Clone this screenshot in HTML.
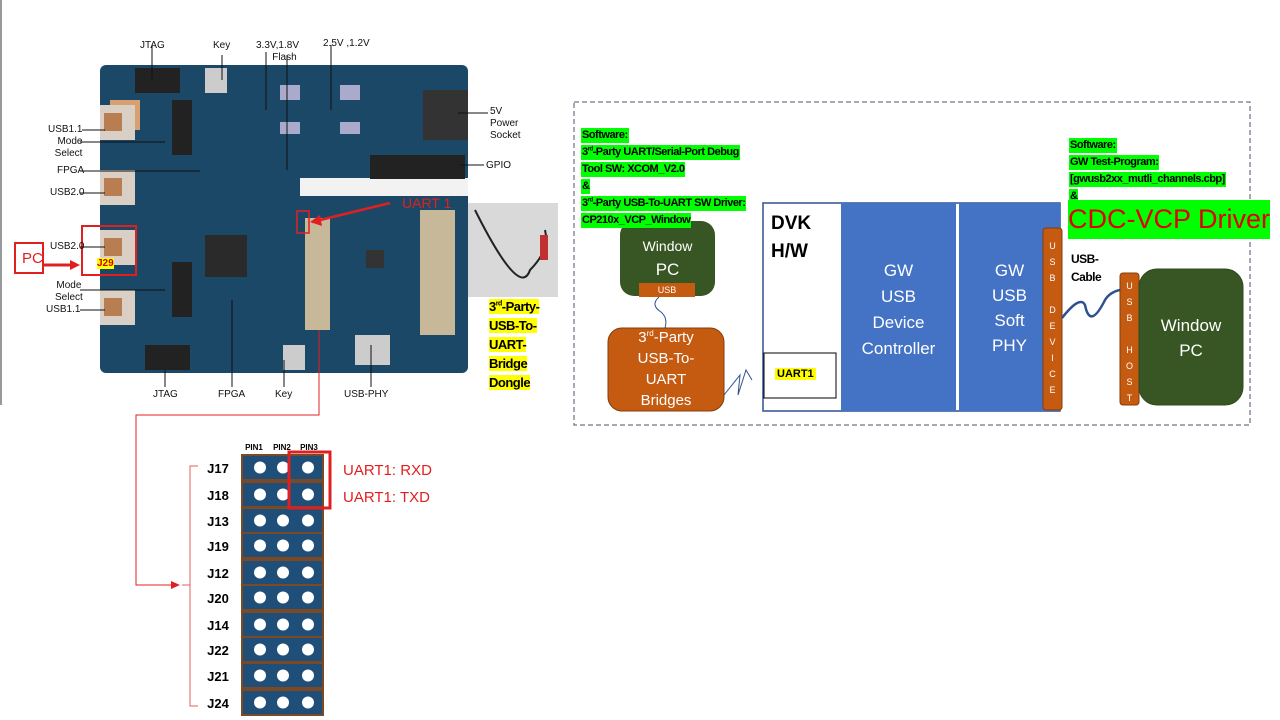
<!DOCTYPE html>
<html><head><meta charset="utf-8"><style>
body{margin:0;width:1280px;height:720px;background:#fff;position:relative;overflow:hidden;font-family:"Liberation Sans",sans-serif}
.a{position:absolute}
.g{background:#00ff00;font-weight:bold;font-size:11px;letter-spacing:-0.5px;color:#000;line-height:15px;display:inline-block;padding:0 1px}
sup{line-height:0}
.lbl{font-size:10px;color:#111;position:absolute;text-align:center;line-height:12px}
</style></head><body>
<svg class="a" style="left:0;top:0" width="1280" height="720">
<line x1="1" y1="0" x2="1" y2="405" stroke="#999" stroke-width="2"/>
<rect x="100" y="65" width="368" height="308" rx="6" fill="#1c4868"/>
<rect x="300" y="178" width="168" height="18" fill="#f2f2f2"/>
<rect x="110" y="100" width="30" height="30" fill="#d8a070"/>
<rect x="100" y="105" width="35" height="35" fill="#d9cfc4"/><rect x="100" y="170" width="35" height="35" fill="#d9cfc4"/>
<rect x="100" y="230" width="35" height="35" fill="#d9cfc4"/><rect x="100" y="290" width="35" height="35" fill="#d9cfc4"/>
<rect x="104" y="113" width="18" height="18" fill="#b87d50"/><rect x="104" y="178" width="18" height="18" fill="#b87d50"/>
<rect x="104" y="238" width="18" height="18" fill="#b87d50"/><rect x="104" y="298" width="18" height="18" fill="#b87d50"/>
<rect x="135" y="68" width="45" height="25" fill="#222"/><rect x="145" y="345" width="45" height="25" fill="#222"/>
<rect x="205" y="68" width="22" height="25" fill="#ccc"/><rect x="283" y="345" width="22" height="25" fill="#ccc"/>
<rect x="172" y="100" width="20" height="55" fill="#222"/><rect x="172" y="262" width="20" height="55" fill="#222"/>
<rect x="205" y="235" width="42" height="42" fill="#2a2a2a"/>
<rect x="423" y="90" width="45" height="50" fill="#333"/>
<rect x="370" y="155" width="95" height="24" fill="#222"/>
<rect x="280" y="85" width="20" height="15" fill="#aac"/><rect x="340" y="85" width="20" height="15" fill="#aac"/>
<rect x="280" y="122" width="20" height="12" fill="#aac"/><rect x="340" y="122" width="20" height="12" fill="#aac"/>
<rect x="305" y="218" width="25" height="112" fill="#c8b89a"/>
<rect x="420" y="210" width="35" height="125" fill="#c8b89a"/>
<rect x="366" y="250" width="18" height="18" fill="#333"/>
<rect x="355" y="335" width="35" height="30" fill="#ccc"/>
<rect x="468" y="203" width="90" height="94" fill="#d9d9d9"/>
<path d="M475 210 Q520 300 530 270 Q550 250 545 230" stroke="#222" stroke-width="2" fill="none"/>
<rect x="540" y="235" width="8" height="25" fill="#c03030"/>
<rect x="297" y="211" width="12" height="22" fill="none" stroke="#e02020" stroke-width="1.5"/>
<line x1="390" y1="203" x2="312" y2="222" stroke="#e02020" stroke-width="2.5"/>
<polygon points="310,222 320,215 322,226" fill="#e02020"/>
<rect x="82" y="226" width="54" height="49" fill="none" stroke="#e02020" stroke-width="2"/>
<rect x="15" y="243" width="28" height="30" fill="#fff" stroke="#e02020" stroke-width="2"/>
<line x1="43" y1="265" x2="72" y2="265" stroke="#e02020" stroke-width="3"/>
<polygon points="80,265 70,260 70,270" fill="#e02020"/>
<g stroke="#111" stroke-width="1">
<line x1="152" y1="45" x2="152" y2="80"/><line x1="222" y1="55" x2="222" y2="80"/>
<line x1="266" y1="52" x2="266" y2="110"/><line x1="287" y1="55" x2="287" y2="170"/>
<line x1="331" y1="45" x2="331" y2="110"/><line x1="458" y1="113" x2="488" y2="113"/>
<line x1="460" y1="165" x2="484" y2="165"/><line x1="82" y1="130" x2="105" y2="130"/>
<line x1="80" y1="142" x2="165" y2="142"/><line x1="80" y1="171" x2="200" y2="171"/>
<line x1="80" y1="193" x2="105" y2="193"/><line x1="80" y1="247" x2="105" y2="247"/>
<line x1="80" y1="290" x2="165" y2="290"/><line x1="80" y1="310" x2="105" y2="310"/>
<line x1="165" y1="370" x2="165" y2="387"/><line x1="232" y1="300" x2="232" y2="387"/>
<line x1="284" y1="360" x2="284" y2="387"/><line x1="371" y1="345" x2="371" y2="387"/>
</g>
<polyline points="319,330 319,415 136,415 136,585 176,585" fill="none" stroke="#e02020" stroke-width="1"/>
<polygon points="180,585 171,581 171,589" fill="#e02020"/>
<polyline points="198,466 190,466 190,706 198,706" fill="none" stroke="#e06060" stroke-width="1"/>
<line x1="182" y1="585" x2="190" y2="585" stroke="#e06060"/>
<g id="pins"></g>
<rect x="289" y="452" width="41" height="56" fill="none" stroke="#e02020" stroke-width="3"/>
<rect x="574" y="102" width="676" height="323" fill="none" stroke="#44546a" stroke-dasharray="5,3"/>
<rect x="763" y="203" width="297" height="208" fill="#fff" stroke="#2f528f" stroke-width="1.5"/>
<rect x="841" y="203" width="115" height="208" fill="#4472c4"/>
<rect x="959" y="203" width="101" height="208" fill="#4472c4"/>
<rect x="764" y="353" width="72" height="45" fill="#fff" stroke="#000"/>
<rect x="1043" y="228" width="19" height="182" rx="3" fill="#c55a11" stroke="#843c0c"/>
<rect x="1120" y="273" width="19" height="132" rx="3" fill="#c55a11" stroke="#843c0c"/>
<rect x="1139" y="269" width="104" height="136" rx="18" fill="#375623" stroke="#2f4a1e"/>
<rect x="620" y="221" width="95" height="75" rx="14" fill="#375623"/>
<rect x="639" y="283" width="56" height="14" fill="#c55a11"/>
<rect x="608" y="328" width="116" height="83" rx="14" fill="#c55a11" stroke="#843c0c"/>
<path d="M659 297 Q650 305 661 312 Q668 318 665 328" stroke="#2f528f" fill="none"/>
<path d="M724 395 L740 375 L738 395 L746 370 L752 380" stroke="#2f528f" fill="none"/>
<path d="M1062 318 Q1080 295 1085 305 Q1090 330 1105 300 Q1110 292 1120 290" stroke="#2f528f" stroke-width="2.5" fill="none"/>
</svg>
<script>
var s='',ys=[455,482,508,533,560,585,612,637,663,690],nm=['J17','J18','J13','J19','J12','J20','J14','J22','J21','J24'];
ys.forEach(function(y,i){s+='<rect x="242" y="'+y+'" width="81" height="25" fill="#1f4e79" stroke="#7b4a25" stroke-width="2"/>';
[260,283,308].forEach(function(x){s+='<circle cx="'+x+'" cy="'+(y+12.5)+'" r="6" fill="#fff"/>'});
s+='<text x="218" y="'+(y+18)+'" font-size="13" font-weight="bold" text-anchor="middle" font-family="Liberation Sans">'+nm[i]+'</text>';});
s+='<text x="254" y="450" font-size="8" font-weight="bold" text-anchor="middle">PIN1</text><text x="282" y="450" font-size="8" font-weight="bold" text-anchor="middle">PIN2</text><text x="309" y="450" font-size="8" font-weight="bold" text-anchor="middle">PIN3</text>';
document.getElementById('pins').innerHTML=s;
</script>
<div class="lbl" style="left:140px;top:40px">JTAG</div>
<div class="lbl" style="left:213px;top:40px">Key</div>
<div class="lbl" style="left:256px;top:40px">3.3V,1.8V<br>&nbsp;&nbsp;&nbsp;&nbsp;&nbsp;Flash</div>
<div class="lbl" style="left:323px;top:38px">2.5V ,1.2V</div>
<div class="lbl" style="left:490px;top:106px;text-align:left">5V<br>Power<br>Socket</div>
<div class="lbl" style="left:486px;top:160px">GPIO</div>
<div class="lbl" style="left:48px;top:124px;text-align:right">USB1.1<br>Mode<br>Select</div>
<div class="lbl" style="left:57px;top:165px">FPGA</div>
<div class="lbl" style="left:50px;top:187px">USB2.0</div>
<div class="lbl" style="left:50px;top:241px">USB2.0</div>
<div class="a" style="left:22px;top:250px;color:#e02020;font-size:15px">PC</div>
<div class="a" style="left:97px;top:258px;background:#ffff00;color:#c00;font-size:10px;font-weight:bold">J29</div>
<div class="lbl" style="left:55px;top:280px">Mode<br>Select</div>
<div class="lbl" style="left:46px;top:304px">USB1.1</div>
<div class="lbl" style="left:153px;top:389px">JTAG</div>
<div class="lbl" style="left:218px;top:389px">FPGA</div>
<div class="lbl" style="left:275px;top:389px">Key</div>
<div class="lbl" style="left:344px;top:389px">USB-PHY</div>
<div class="a" style="left:402px;top:195px;color:#e02020;font-size:14px">UART 1</div>
<div class="a" style="left:489px;top:297px;font-size:13px;font-weight:bold;line-height:19px;letter-spacing:-0.5px"><span style="background:#ff0">3<sup style="font-size:7px">rd</sup>-Party-</span><br><span style="background:#ff0">USB-To-</span><br><span style="background:#ff0">UART-</span><br><span style="background:#ff0">Bridge</span><br><span style="background:#ff0">Dongle</span></div>
<div class="a" style="left:343px;top:457px;color:#e02020;font-size:15px;line-height:27px">UART1: RXD<br>UART1: TXD</div>
<div class="a" style="left:581px;top:126px;line-height:16px"><span class="g">Software:</span><br><span class="g">3<sup style="font-size:6px">rd</sup>-Party UART/Serial-Port Debug</span><br><span class="g">Tool SW: XCOM_V2.0</span><br><span class="g">&amp;</span><br><span class="g">3<sup style="font-size:6px">rd</sup>-Party USB-To-UART SW Driver:</span><br><span class="g">CP210x_VCP_Window</span></div>
<div class="a" style="left:1069px;top:136px;line-height:16px"><span class="g">Software:</span><br><span class="g">GW Test-Program:</span><br><span class="g">[gwusb2xx_mutli_channels.cbp]</span><br><span class="g">&amp;</span></div>
<div class="a" style="left:1068px;top:200px;width:202px;height:39px;background:#00ff00;color:#e00000;font-size:27px;line-height:39px;white-space:nowrap;overflow:hidden">CDC-VCP Driver</div>
<div class="a" style="left:771px;top:210px;font-size:19px;font-weight:bold;line-height:28px">DVK<br>H/W</div>
<div class="a" style="left:775px;top:368px;font-size:11px;font-weight:bold;background:#ff0;padding:0 2px">UART1</div>
<div class="a" style="left:841px;top:258px;width:115px;text-align:center;color:#fff;font-size:17px;line-height:26px">GW<br>USB<br>Device<br>Controller</div>
<div class="a" style="left:959px;top:258px;width:101px;text-align:center;color:#fff;font-size:17px;line-height:25px">GW<br>USB<br>Soft<br>PHY</div>
<div class="a" style="left:1043px;top:238px;width:19px;text-align:center;color:#fff;font-size:9px;line-height:16px">U<br>S<br>B<br><br>D<br>E<br>V<br>I<br>C<br>E</div>
<div class="a" style="left:1120px;top:278px;width:19px;text-align:center;color:#fff;font-size:9px;line-height:16px">U<br>S<br>B<br><br>H<br>O<br>S<br>T</div>
<div class="a" style="left:1139px;top:313px;width:104px;text-align:center;color:#fff;font-size:17px;line-height:25px">Window<br>PC</div>
<div class="a" style="left:1071px;top:250px;font-size:12px;font-weight:bold;line-height:18px;letter-spacing:-0.5px">USB-<br>Cable</div>
<div class="a" style="left:620px;top:234px;width:95px;text-align:center;color:#fff;font-size:14px;line-height:24px">Window<br><span style="font-size:17px">PC</span></div>
<div class="a" style="left:639px;top:283px;width:56px;text-align:center;color:#fff;font-size:9px;line-height:14px">USB</div>
<div class="a" style="left:608px;top:327px;width:116px;text-align:center;color:#fff;font-size:15px;line-height:21px">3<sup style="font-size:8px">rd</sup>-Party<br>USB-To-<br>UART<br>Bridges</div>
</body></html>
